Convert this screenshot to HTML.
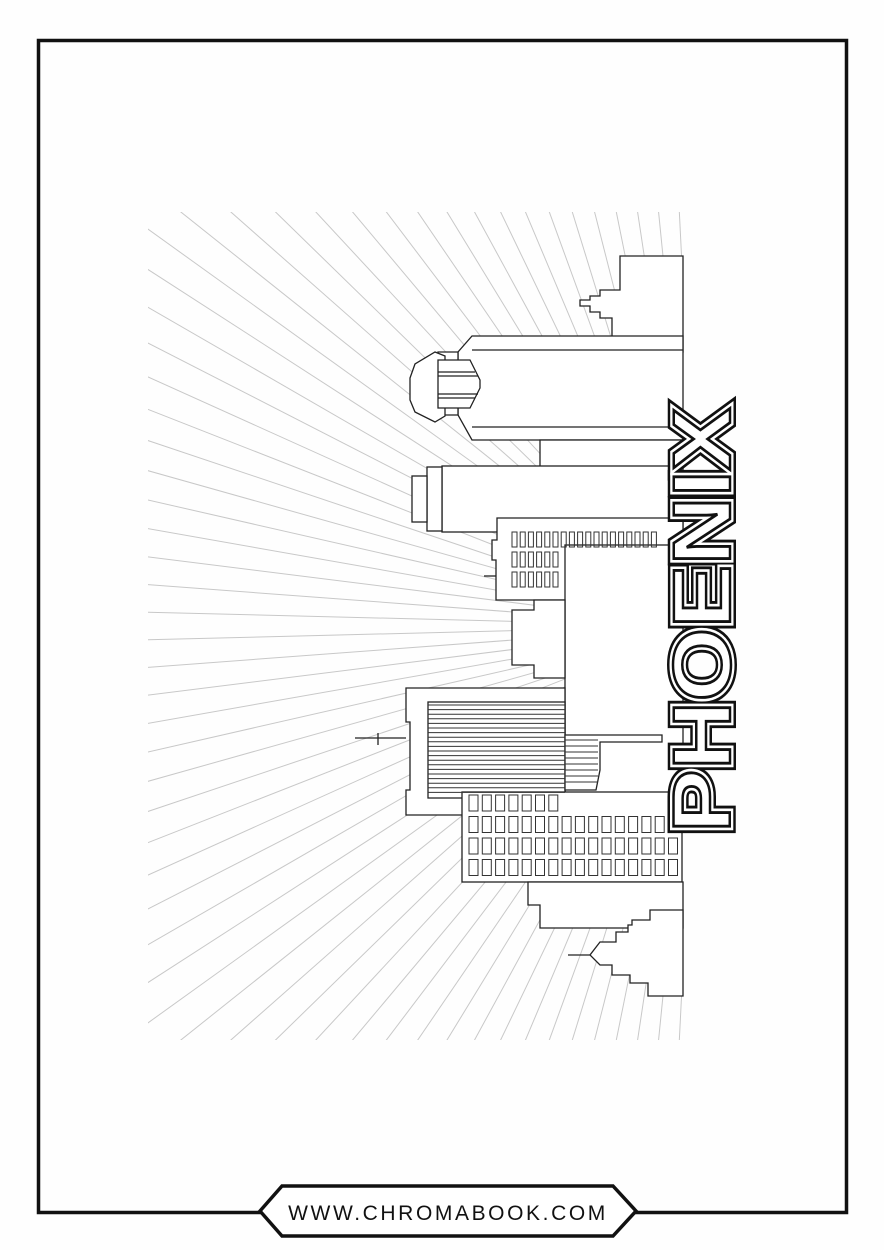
<!DOCTYPE html>
<html><head><meta charset="utf-8"><style>
html,body{margin:0;padding:0;background:#fff;width:884px;height:1250px;overflow:hidden;}
svg{display:block;}
</style></head><body>
<svg id="s" width="884" height="1250" viewBox="0 0 884 1250" xmlns="http://www.w3.org/2000/svg">
<rect x="0" y="0" width="884" height="1250" fill="#fefefe"/>
<defs><clipPath id="c"><rect x="148" y="212" width="535" height="828"/></clipPath></defs>
<g id="rays" clip-path="url(#c)" stroke="#c8c8c8" stroke-width="1"></g>
<g fill="#fff" stroke="#222" stroke-width="1.3">
<path d="M683 256 H620 V290 H600 V296 H590 V300 H580 V306 H590 V312 H600 V318 H612 V340 H622 V352 H683 Z"/>
<path d="M683 336 H472 L458 352 V415 L472 440 H683 Z"/>
<line x1="472" y1="350" x2="683" y2="350" />
<line x1="472" y1="427" x2="683" y2="427" />
<path d="M458 352 L438 352 V415 L458 415 Z"/>
<path d="M445 356 L435 352 L415 364 L410 378 V400 L415 412 L435 422 L445 416 Z"/>
<path d="M438 360 H470 L480 380 V388 L470 408 H438 Z"/>
<line x1="438" y1="372" x2="475" y2="372"/><line x1="438" y1="376" x2="478" y2="376"/>
<line x1="438" y1="394" x2="478" y2="394"/><line x1="438" y1="398" x2="475" y2="398"/>
<rect x="540" y="440" width="143" height="28"/>
<rect x="442" y="466" width="241" height="66"/>
<rect x="427" y="467" width="15" height="64"/>
<rect x="412" y="476" width="15" height="46"/>
<path d="M683 518 H497 V540 H492 V560 H496 V600 H683 Z"/>
<line x1="484" y1="576" x2="496" y2="576"/>
<rect x="565" y="545" width="118" height="250"/>
<path d="M565 600 H534 V610 H512 V665 H534 V678 H565 Z"/>
<path d="M565 688 H406 V722 H410 V790 H406 V815 H565 Z"/>
<line x1="355" y1="738" x2="406" y2="738"/>
<line x1="378" y1="733" x2="378" y2="745"/>
<rect x="428" y="702" width="137" height="96"/>
<path d="M565 735 H662 V742 H600 V770 L596 790 H565 Z"/>
<rect x="462" y="792" width="220" height="90"/>
<path d="M683 882 H528 V905 H540 V928 H683 Z"/>
<path d="M683 910 H650 V920 H632 V925 H628 V932 H616 V942 H600 L590 955 L600 965 H612 V975 H630 V983 H648 V996 H683 Z"/>
<line x1="568" y1="955" x2="590" y2="955"/>
</g>
<g id="det" fill="none" stroke="#333" stroke-width="1"></g>
<g transform="translate(701 620) rotate(-90)" font-family="Liberation Sans, sans-serif" font-weight="bold" font-size="82">
<text x="0" y="29" text-anchor="middle" textLength="425" lengthAdjust="spacingAndGlyphs" fill="#fff" stroke="#111" stroke-width="12" stroke-linejoin="miter">PHOENIX</text>
<text x="0" y="29" text-anchor="middle" textLength="425" lengthAdjust="spacingAndGlyphs" fill="#fff" stroke="#fff" stroke-width="7" stroke-linejoin="miter">PHOENIX</text>
<text x="0" y="29" text-anchor="middle" textLength="425" lengthAdjust="spacingAndGlyphs" fill="#fff" stroke="#111" stroke-width="2.5">PHOENIX</text>
</g>
<rect x="38.5" y="40.5" width="808" height="1172" fill="none" stroke="#111" stroke-width="3.5"/>
<polygon points="260,1211 282,1186 613,1186 636,1211 613,1236 282,1236" fill="#fff" stroke="#111" stroke-width="3.5"/>
<text x="448" y="1220" text-anchor="middle" font-family="Liberation Sans, sans-serif" font-size="21" letter-spacing="2.6" fill="#111">WWW.CHROMABOOK.COM</text>
</svg>
<script>
var ns="http://www.w3.org/2000/svg";
function L(g,x1,y1,x2,y2){var l=document.createElementNS(ns,"line");l.setAttribute("x1",x1);l.setAttribute("y1",y1);l.setAttribute("x2",x2);l.setAttribute("y2",y2);g.appendChild(l);}
function R(g,x,y,w,h){var e=document.createElementNS(ns,"rect");e.setAttribute("x",x);e.setAttribute("y",y);e.setAttribute("width",w);e.setAttribute("height",h);g.appendChild(e);}
var r=document.getElementById("rays");
var ox=700,oy=626;
for(var i=0;i<64;i++){var a=Math.PI/2+ i*Math.PI/63;var dx=Math.cos(a),dy=Math.sin(a);L(r,ox+dx*120,oy-dy*120,ox+dx*900,oy-dy*900);}
var d=document.getElementById("det");
for(var c=0;c<18;c++)for(var k=0;k<3;k++){var x=512+c*8.2;if(x>560&&k>0)continue;if(x>655)continue;R(d,x,532+k*20,5,15);}
for(var k=0;k<20;k++){L(d,428,705+k*4.6,565,705+k*4.6);}
for(var k=0;k<8;k++){L(d,565,740+k*6,598,740+k*6);}
for(var c=0;c<16;c++)for(var k=0;k<4;k++){var x=469+c*13.3;if(k==0&&x>555)continue;R(d,x,795+k*21.5,9,16);}
</script>
</body></html>
